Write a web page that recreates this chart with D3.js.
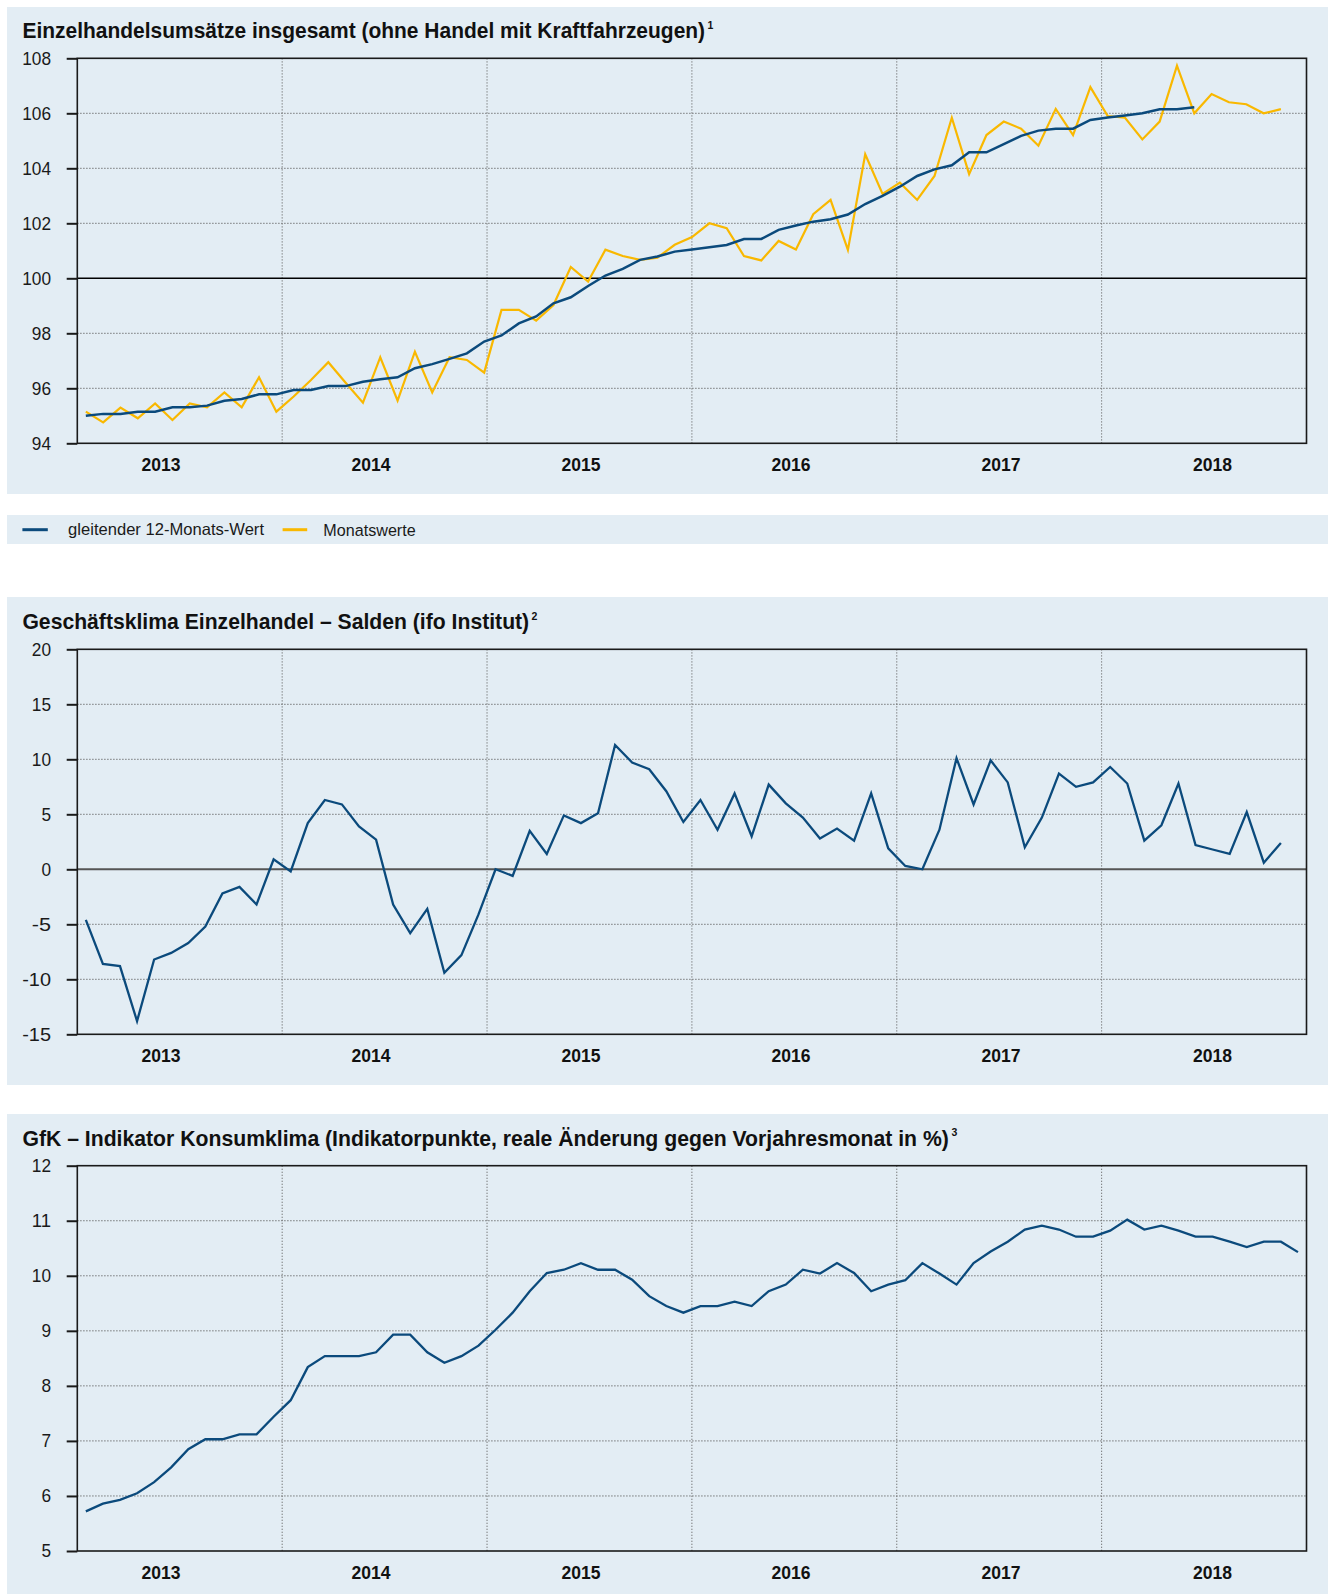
<!DOCTYPE html>
<html><head><meta charset="utf-8">
<script src="https://cdn.jsdelivr.net/npm/d3@7"></script>
<style>
body{margin:0;background:#fff;}
svg{display:block;font-family:"Liberation Sans",Arial,sans-serif;}
</style></head><body>
<svg id="c" width="1336" height="1594"></svg>
<script>
// ---------- data ----------
const yearLabels = ["2013","2014","2015","2016","2017","2018"];
const yearLabelMonth = [4.4, 16.7, 29.0, 41.3, 53.6, 66.0];   // month index (0 = Jan 2013)
const yearBoundaries = [11.5, 23.5, 35.5, 47.5, 59.5];

const retailTicks = [94, 96, 98, 100, 102, 104, 106, 108];
const ifoTicks = [-15, -10, -5, 0, 5, 10, 15, 20];
const gfkTicks = [5, 6, 7, 8, 9, 10, 11, 12];

// Monatswerte, Jan 2013 ..
const retailMonthly = [
  95.15, 94.76, 95.30, 94.91, 95.45, 94.85, 95.45, 95.31, 95.85, 95.31, 96.40, 95.15,
  95.70, 96.30, 96.95, 96.20, 95.48, 97.13, 95.55, 97.33, 95.85, 97.13, 97.03, 96.57,
  98.85, 98.85, 98.46, 99.03, 100.41, 99.88, 101.04, 100.81, 100.67, 100.75, 101.22, 101.50,
  102.00, 101.82, 100.81, 100.65, 101.36, 101.05, 102.33, 102.85, 101.03, 104.51, 103.07, 103.48,
  102.85, 103.72, 105.84, 103.79, 105.21, 105.70, 105.44, 104.82, 106.16, 105.21, 106.95, 105.90,
  105.84, 105.05, 105.70, 107.73, 106.00, 106.70, 106.40, 106.33, 106.00, 106.15
];
// gleitender 12-Monats-Wert
const retailMoving = [
  95.00, 95.07, 95.07, 95.15, 95.15, 95.31, 95.31, 95.37, 95.55, 95.61, 95.78, 95.78,
  95.94, 95.94, 96.08, 96.08, 96.24, 96.33, 96.40, 96.73, 96.88, 97.07, 97.27, 97.70,
  97.92, 98.36, 98.61, 99.09, 99.31, 99.72, 100.10, 100.34, 100.67, 100.79, 100.97, 101.05,
  101.13, 101.21, 101.43, 101.43, 101.76, 101.92, 102.06, 102.15, 102.32, 102.70, 103.00, 103.33,
  103.72, 103.96, 104.11, 104.58, 104.58, 104.88, 105.18, 105.37, 105.44, 105.44, 105.76, 105.85,
  105.92, 106.00, 106.15, 106.15, 106.22
];
// ifo Geschäftsklima Einzelhandel, Salden
const ifoClimate = [
  -4.6, -8.6, -8.8, -13.8, -8.2, -7.6, -6.7, -5.2, -2.2, -1.6, -3.2, 0.9,
  -0.2, 4.2, 6.3, 5.9, 3.9, 2.7, -3.2, -5.8, -3.6, -9.4, -7.8, -4.1,
  0.0, -0.6, 3.5, 1.4, 4.9, 4.2, 5.1, 11.3, 9.7, 9.1, 7.1, 4.3,
  6.3, 3.6, 6.9, 3.0, 7.7, 6.0, 4.7, 2.8, 3.7, 2.6, 6.9, 1.9,
  0.3, 0.0, 3.6, 10.1, 5.9, 9.9, 7.9, 2.0, 4.7, 8.7, 7.5, 7.9,
  9.3, 7.8, 2.6, 4.0, 7.8, 2.2, 1.8, 1.4, 5.2, 0.6, 2.4
];
// GfK Konsumklima
const gfkClimate = [
  5.72, 5.86, 5.93, 6.05, 6.25, 6.52, 6.85, 7.03, 7.03, 7.12, 7.12, 7.44,
  7.74, 8.34, 8.54, 8.54, 8.54, 8.61, 8.93, 8.93, 8.61, 8.42, 8.54, 8.73,
  9.02, 9.33, 9.72, 10.05, 10.11, 10.23, 10.11, 10.11, 9.93, 9.63, 9.45, 9.33,
  9.45, 9.45, 9.53, 9.45, 9.72, 9.84, 10.11, 10.04, 10.23, 10.05, 9.72, 9.84,
  9.92, 10.23, 10.04, 9.84, 10.23, 10.44, 10.62, 10.84, 10.91, 10.84, 10.71, 10.71,
  10.82, 11.02, 10.84, 10.91, 10.82, 10.71, 10.71, 10.62, 10.52, 10.62, 10.62, 10.43
];

const titles = [
  {text: "Einzelhandelsumsätze insgesamt (ohne Handel mit Kraftfahrzeugen)", sup: "1", width: 683},
  {text: "Geschäftsklima Einzelhandel – Salden (ifo Institut)", sup: "2", width: 507},
  {text: "GfK – Indikator Konsumklima (Indikatorpunkte, reale Änderung gegen Vorjahresmonat in %)", sup: "3", width: 927}
];
const legendItems = [
  {label: "gleitender 12-Monats-Wert", key: "blue", width: 196},
  {label: "Monatswerte", key: "yellow", width: 92.5}
];

// ---------- style ----------
const C = {bg: "#e3edf4", blue: "#0b4a7c", yellow: "#f9b800", grid: "#5a5a5a", frame: "#1a1a1a"};
const svg = d3.select("#c");
const plotL = 77.3, plotR = 1306.5;
const xm = d3.scaleLinear().domain([-0.5, 71.5]).range([plotL, plotR]);

// text helper: draws text at natural size then scales horizontally to the target width
function fittedText(parent, x, yPos, str, size, weight, width) {
  const gg = parent.append("g");
  const t = gg.append("text").attr("x", 0).attr("y", 0).attr("dominant-baseline", "central")
    .attr("font-size", size).attr("font-weight", weight).attr("fill", "#111").text(str);
  const nat = t.node().getComputedTextLength();
  const sx = width / nat;
  gg.attr("transform", `translate(${x},${yPos}) scale(${sx},1)`);
  return t;
}

const charts = [
  {panel: [7, 494], top: 58.3, bottom: 443.3, domain: [94, 108], ticks: retailTicks, base: 100, baseColor: "#000", baseW: 1.4,
   series: [
     {data: retailMonthly, color: C.yellow, w: 2.2, stretch: true},
     {data: retailMoving, color: C.blue, w: 2.5, stretch: true}
   ], title: titles[0]},
  {panel: [597, 1085], top: 649.3, bottom: 1034.3, domain: [-15, 20], ticks: ifoTicks, base: 0, baseColor: "#555", baseW: 2,
   series: [{data: ifoClimate, color: C.blue, w: 2.3}], title: titles[1]},
  {panel: [1114, 1594], top: 1165.7, bottom: 1551, domain: [5, 12], ticks: gfkTicks, base: null,
   series: [{data: gfkClimate, color: C.blue, w: 2.3}], title: titles[2]}
];

// legend band
svg.append("rect").attr("x", 7).attr("y", 515).attr("width", 1321).attr("height", 29).attr("fill", C.bg);
{
  const ly = 529.7;
  const lg = svg.append("g");
  const pos = [{sx: 22.4, sw: 25.4, tx: 68.1}, {sx: 282.6, sw: 24.6, tx: 323.3}];
  legendItems.forEach((it, k) => {
    lg.append("line").attr("x1", pos[k].sx).attr("x2", pos[k].sx + pos[k].sw).attr("y1", ly).attr("y2", ly)
      .attr("stroke", it.key === "blue" ? C.blue : C.yellow).attr("stroke-width", 3);
    fittedText(lg, pos[k].tx, ly, it.label, 16.5, "normal", it.width).attr("fill", "#1a1a1a");
  });
}

charts.forEach(cfg => {
  const g = svg.append("g");
  g.append("rect").attr("x", 7).attr("y", cfg.panel[0]).attr("width", 1321).attr("height", cfg.panel[1] - cfg.panel[0]).attr("fill", C.bg);

  const y = d3.scaleLinear().domain(cfg.domain).range([cfg.bottom, cfg.top]);

  // title + superscript
  const ty = cfg.top - 27.8;
  fittedText(g, 22.4, ty, cfg.title.text, 22, "bold", cfg.title.width);
  g.append("text").attr("x", 22.4 + cfg.title.width + 2).attr("y", ty - 6).attr("dominant-baseline", "central")
    .attr("font-size", 10.5).attr("font-weight", "bold").attr("fill", "#111").text(cfg.title.sup);

  // horizontal grid
  g.append("g").selectAll("line").data(cfg.ticks.filter(t => t !== cfg.domain[0] && t !== cfg.domain[1] && t !== cfg.base))
    .join("line").attr("x1", plotL).attr("x2", plotR).attr("y1", d => y(d)).attr("y2", d => y(d))
    .attr("stroke", C.grid).attr("stroke-width", 1).attr("stroke-dasharray", "1.2,1.8");
  // vertical grid
  g.append("g").selectAll("line").data(yearBoundaries).join("line")
    .attr("x1", d => xm(d)).attr("x2", d => xm(d)).attr("y1", cfg.top).attr("y2", cfg.bottom)
    .attr("stroke", "#6a6a6a").attr("stroke-width", 1).attr("stroke-dasharray", "1.2,1.8");
  // base line
  if (cfg.base !== null) {
    g.append("line").attr("x1", plotL).attr("x2", plotR).attr("y1", y(cfg.base)).attr("y2", y(cfg.base))
      .attr("stroke", cfg.baseColor).attr("stroke-width", cfg.baseW);
  }

  // series
  cfg.series.forEach(s => {
    const xs = s.stretch
      ? d3.scaleLinear().domain([0, retailMonthly.length - 1]).range([xm(0), xm(ifoClimate.length - 1)])
      : xm;
    const line = d3.line().x((d, i) => xs(i)).y(d => y(d));
    g.append("path").datum(s.data).attr("d", line).attr("fill", "none")
      .attr("stroke", s.color).attr("stroke-width", s.w).attr("stroke-linejoin", "miter");
  });

  // frame
  g.append("rect").attr("x", plotL).attr("y", cfg.top).attr("width", plotR - plotL).attr("height", cfg.bottom - cfg.top)
    .attr("fill", "none").attr("stroke", C.frame).attr("stroke-width", 1.6);

  // y axis
  const ax = g.append("g").attr("transform", `translate(${plotL},0)`)
    .call(d3.axisLeft(y).tickValues(cfg.ticks).tickFormat(d => String(d)).tickSize(10.6).tickSizeOuter(0).tickPadding(15.7));
  ax.select(".domain").remove();
  ax.selectAll(".tick line").attr("stroke", C.frame).attr("stroke-width", 2);
  ax.selectAll(".tick text").attr("font-size", 18.5).attr("fill", "#1a1a1a").attr("font-family", "Liberation Sans, Arial, sans-serif")
    .attr("textLength", d => String(d).length * 9.6).attr("lengthAdjust", "spacingAndGlyphs");

  // year labels
  g.append("g").selectAll("text").data(yearLabels).join("text")
    .attr("x", (d, k) => xm(yearLabelMonth[k])).attr("y", cfg.bottom + 21.2)
    .attr("text-anchor", "middle").attr("dominant-baseline", "central")
    .attr("font-size", 19).attr("font-weight", "bold").attr("fill", "#111")
    .attr("textLength", 39).attr("lengthAdjust", "spacingAndGlyphs").text(d => d);
});
</script>
</body></html>
